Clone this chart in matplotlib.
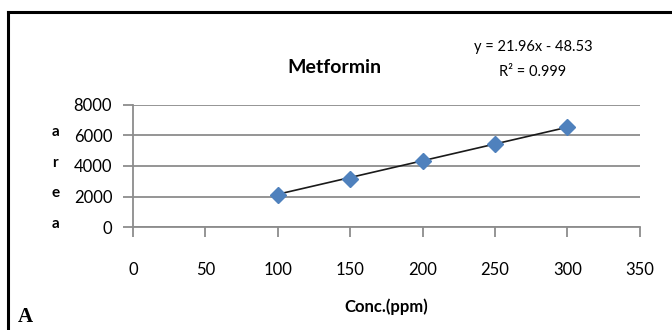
import numpy as np
import matplotlib.pyplot as plt
from matplotlib.lines import Line2D

conc = [100, 150, 200, 250, 300]
area = [2100, 3170, 4350, 5420, 6580]
slope = 21.96
intercept = -48.53
r2 = 0.999

plt.rcParams['font.family'] = ['Lato', 'DejaVu Sans']

fig = plt.figure(figsize=(6.72, 3.3), dpi=100)
ax = fig.add_axes([0.198, 0.312, 0.754, 0.370])

ax.yaxis.grid(True, color='#8c8c8c', linewidth=1.3)
ax.set_axisbelow(True)

fit_x = np.array([conc[0], conc[-1]])
ax.plot(fit_x, slope * fit_x + intercept, color='#1a1a1a', linewidth=1.2, zorder=3)
ax.plot(conc, area, linestyle='none', marker='D', markersize=8,
        color='#4f81bd', markeredgecolor='#4f81bd', zorder=4)

ax.set_xlim(0, 350)
ax.set_ylim(0, 8000)
ax.set_xticks(range(0, 351, 50))
ax.set_yticks(range(0, 8001, 2000))

for s in ['top', 'right']:
    ax.spines[s].set_visible(False)
for s in ['left', 'bottom']:
    ax.spines[s].set_color('#8c8c8c')
    ax.spines[s].set_linewidth(1.3)

ax.tick_params(axis='x', direction='out', length=7, width=1.3, color='#8c8c8c',
               pad=18, labelsize=12)
ax.tick_params(axis='y', direction='out', length=7, width=1.3, color='#8c8c8c',
               pad=8, labelsize=12)

ax.set_xlabel('Conc.(ppm)', fontsize=12, fontweight='bold', labelpad=15)
fig.text(0.082, 0.46, 'a\nr\ne\na', fontsize=11, fontweight='bold',
         ha='center', va='center', linespacing=2.5)

fig.text(0.498, 0.795, 'Metformin', fontsize=14, fontweight='bold',
         ha='center', va='center')
fig.text(0.793, 0.858, 'y = %.2fx - %.2f' % (slope, -intercept), fontsize=10.5,
         ha='center', va='center')
fig.text(0.793, 0.782, 'R² = %.3f' % r2, fontsize=10.5, ha='center', va='center')

fig.text(0.026, 0.01, 'A', fontsize=15, fontweight='bold',
         family=['Liberation Serif', 'DejaVu Serif'], ha='left', va='bottom')

fig.add_artist(Line2D([0.012, 1.0], [0.964, 0.964], transform=fig.transFigure,
                      color='black', linewidth=2.2))
fig.add_artist(Line2D([0.012, 0.012], [0.0, 0.964], transform=fig.transFigure,
                      color='black', linewidth=2.2))

fig.savefig('out.png', dpi=100)
